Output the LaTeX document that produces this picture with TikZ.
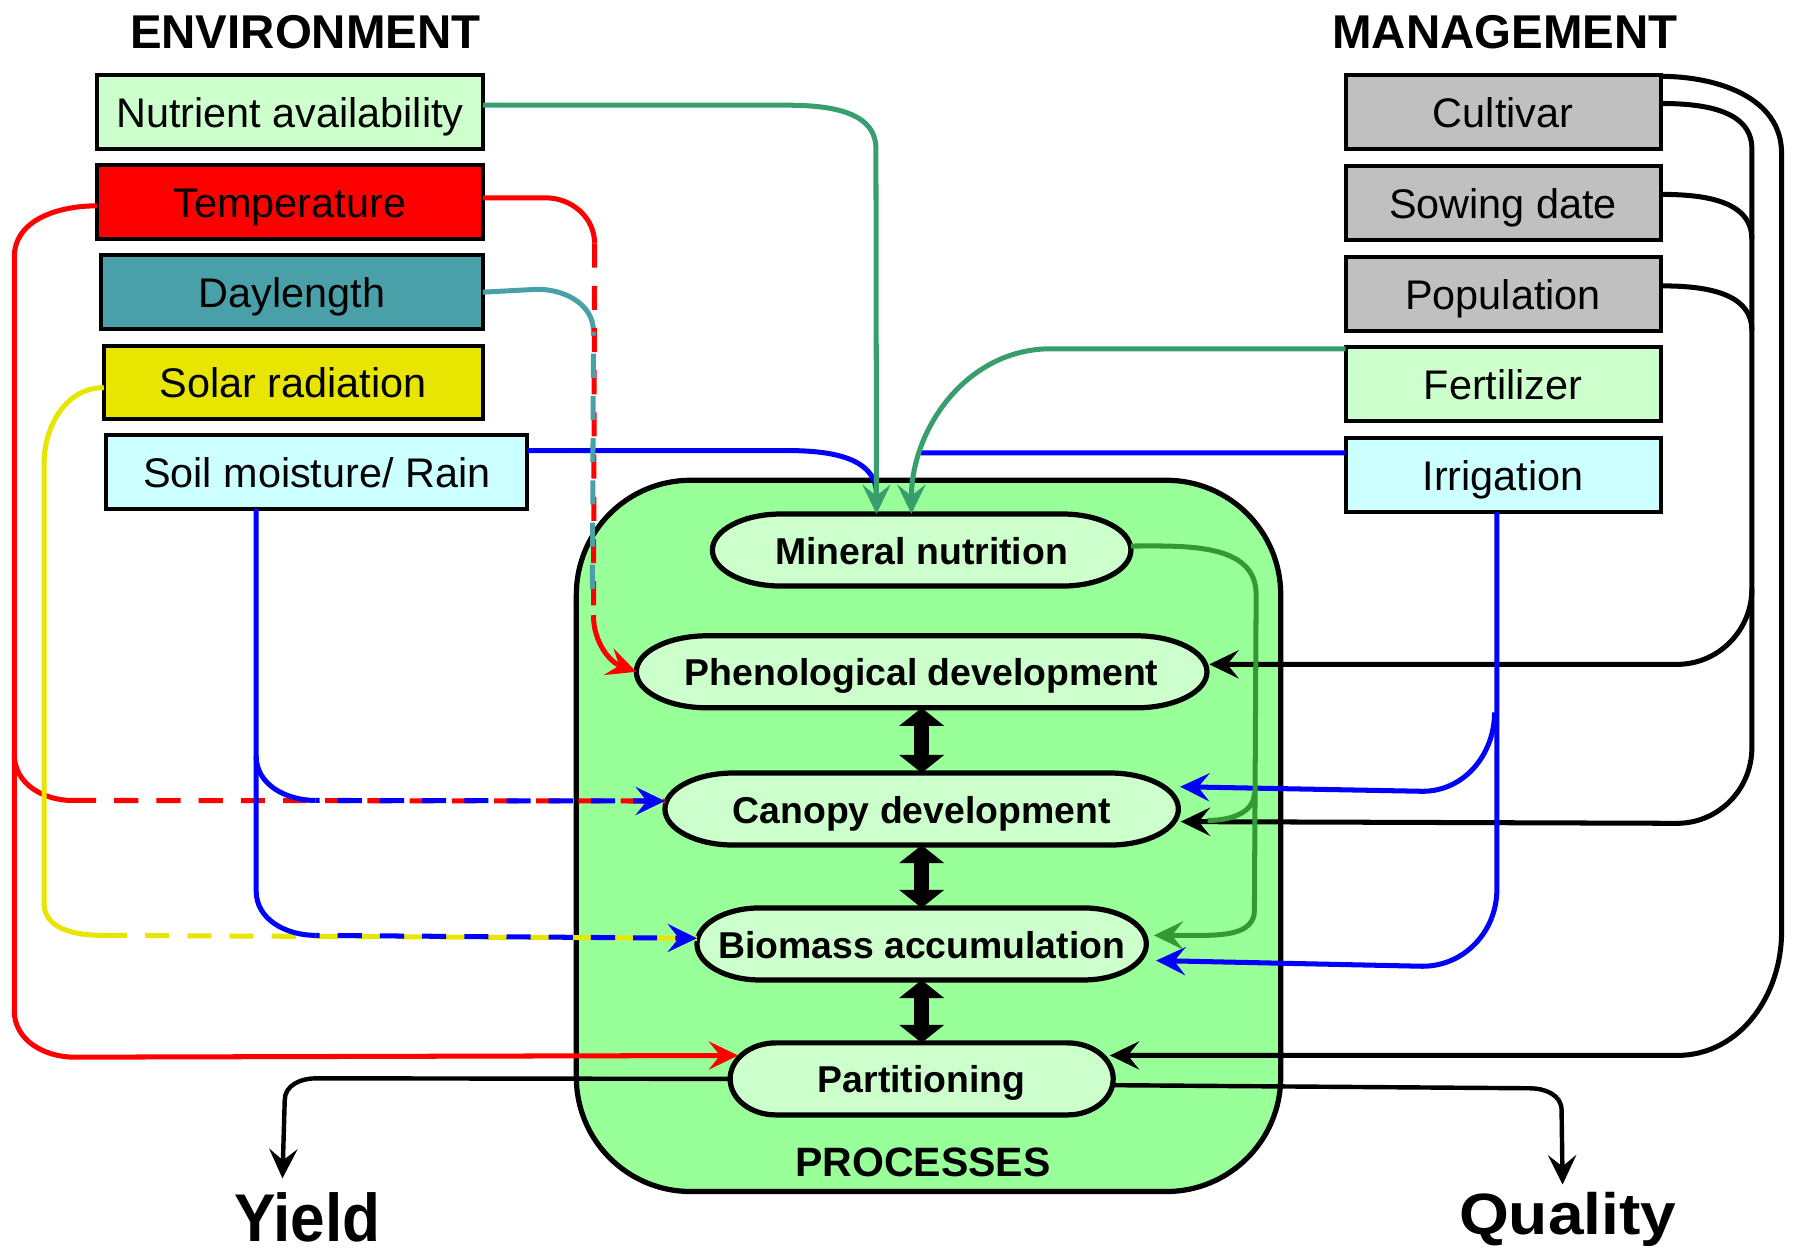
\documentclass[tikz,border=0pt]{standalone}
\usepackage{fontspec}
\setmainfont{Liberation Sans}
\newfontfamily\narrowsf[FakeStretch=0.92]{Liberation Sans}
\newfontfamily\widesf[FakeStretch=1.1]{Liberation Sans}
\usetikzlibrary{arrows.meta,positioning,calc,backgrounds}

\definecolor{palegreen}{RGB}{204,255,204}
\definecolor{procgreen}{RGB}{153,255,153}
\definecolor{palecyan}{RGB}{204,255,255}
\definecolor{mgmtgray}{RGB}{192,192,192}
\definecolor{dayteal}{RGB}{74,160,168}
\definecolor{solaryellow}{RGB}{232,230,0}
\definecolor{nutgreen}{RGB}{56,158,110}
\definecolor{mingreen}{RGB}{51,153,51}

\tikzset{
  factor/.style={draw, line width=1pt, minimum height=0.645cm, inner sep=0pt, outer sep=0pt,
    font=\fontsize{10.3}{12}\selectfont, text height=9pt, text depth=1.3pt},
  process/.style={minimum height=0.63cm, inner sep=0pt, outer sep=0pt,
    font=\fontsize{9.3}{11}\selectfont\bfseries, text height=8pt, text depth=1pt},
  heading/.style={font=\fontsize{11.8}{14}\selectfont\bfseries, inner sep=0pt, anchor=base},
  conn/.style={line width=1.25pt},
  arrowed/.style={-{Stealth[length=7.3pt,width=7pt,inset=2.8pt]}},
  dashlink/.style={dash pattern=on 6pt off 4.5pt},
  twoway/.style={line width=3.7pt, {Triangle[length=4.5pt,width=11pt]}-{Triangle[length=4.5pt,width=11pt]}},
}

\begin{document}
\begin{tikzpicture}
  \useasboundingbox (0,0) rectangle (15.68,-10.975);

  % titles
  \node[heading] (envtitle) at (2.67,-0.42) {ENVIRONMENT};
  \node[heading] (mgmttitle) at (13.16,-0.42) {MANAGEMENT};

  % environment factors
  \node[factor, fill=palegreen, minimum width=3.375cm] (nutr) at (2.535,-0.98) {Nutrient availability};
  \node[factor, fill=red, minimum width=3.375cm] (temp) at (2.535,-1.765) {Temperature};
  \node[factor, fill=dayteal, minimum width=3.335cm] (dayl) at (2.555,-2.555) {Daylength};
  \node[factor, fill=solaryellow, minimum width=3.315cm] (solar) at (2.565,-3.345) {Solar radiation};
  \node[factor, fill=palecyan, minimum width=3.685cm] (soil) at (2.77,-4.13) {Soil moisture/ Rain};

  % management factors
  \node[factor, fill=mgmtgray, minimum width=2.755cm] (cultivar) at (13.145,-0.98) {Cultivar};
  \node[factor, fill=mgmtgray, minimum width=2.755cm] (sowing) at (13.145,-1.775) {Sowing date};
  \node[factor, fill=mgmtgray, minimum width=2.755cm] (popul) at (13.145,-2.57) {Population};
  \node[factor, fill=palegreen, minimum width=2.755cm] (fert) at (13.145,-3.355) {Fertilizer};
  \node[factor, fill=palecyan, minimum width=2.755cm] (irrig) at (13.145,-4.155) {Irrigation};

  % processes
  \node[minimum width=6.16cm, minimum height=6.22cm, inner sep=0pt, outer sep=0pt] (procbox) at (8.12,-7.31) {};
  \node[process, minimum width=3.66cm] (mineral) at (8.06,-4.81) {Mineral nutrition};
  \node[process, minimum width=4.99cm, below=0.435cm of mineral] (pheno) {Phenological development};
  \node[process, minimum width=4.49cm, below=0.57cm of pheno] (canopy) {Canopy development};
  \node[process, minimum width=3.93cm, below=0.55cm of canopy] (biomass) {Biomass accumulation};
  \node[process, minimum width=3.35cm, below=0.55cm of biomass] (partit) {Partitioning};
  \node[font=\fontsize{10.2}{12}\selectfont\bfseries, inner sep=0pt, anchor=base] (proclabel) at (8.07,-10.29) {PROCESSES};

  % outputs
  \node[font=\narrowsf\fontsize{16.8}{20}\selectfont\bfseries, inner sep=0pt, anchor=base] (yield) at (2.69,-10.86) {Yield};
  \node[font=\widesf\fontsize{14.5}{18}\selectfont\bfseries, inner sep=0pt, anchor=base] (quality) at (13.71,-10.8) {Quality};

  \begin{scope}[on background layer]
    \draw[line width=1.3pt, fill=procgreen, rounded corners=1cm] (procbox.south west) rectangle (procbox.north east);
    \foreach \p/\rx in {mineral/0.6,pheno/0.62,canopy/0.6,biomass/0.55,partit/0.4}
      \draw[line width=1.3pt, fill=palegreen]
        ($(\p.north west)+(\rx,0)$) -- ($(\p.north east)+(-\rx,0)$)
        arc[start angle=90,end angle=-90,x radius=\rx,y radius=0.315]
        -- ($(\p.south west)+(\rx,0)$)
        arc[start angle=270,end angle=90,x radius=\rx,y radius=0.315] -- cycle;
  \end{scope}

  % links between processes
  \draw[twoway] (pheno.south) -- (canopy.north);
  \draw[twoway] (canopy.south) -- (biomass.north);
  \draw[twoway] (biomass.south) -- (partit.north);

  \coordinate (minL) at ($(mineral.north)+(-0.395,0)$);
  \coordinate (minR) at ($(mineral.north)+(-0.09,0)$);

  % mineral nutrition inputs
  \draw[conn, blue] ([yshift=0.19cm]soil.east) -- (6.87,-3.94) to[out=0,in=90] ($(minL)+(0,0.17)$);
  \draw[conn, blue] ([yshift=0.195cm]irrig.west) -- (8.05,-3.96);
  \draw[conn, nutgreen, arrowed] ([yshift=0.06cm]nutr.east) -- (6.87,-0.92) to[out=0,in=90] (7.66,-1.30) -- (minL);
  \draw[conn, nutgreen, arrowed] ([yshift=0.305cm]fert.west) -- (9.19,-3.05) to[out=180,in=90] (minR);

  % daylength and temperature to phenology
  \draw[conn, dayteal] (dayl.east) -- (4.70,-2.53) to[out=0,in=90] (5.19,-2.90) coordinate (ddash);
  \draw[conn, red] ([yshift=0.035cm]temp.east) -- (4.77,-1.73) to[out=0,in=90] (5.20,-2.13) coordinate (tdash);
  \draw[conn, red, dashlink] (tdash) -- (5.19,-5.38) coordinate (tend);
  \draw[conn, dayteal, dashlink, dash phase=5pt] (ddash) -- (5.18,-5.28);
  \draw[conn, red, arrowed] (tend) to[out=-90,in=160] (pheno.west);

  % temperature to canopy and partitioning
  \draw[conn, red, arrowed] ([yshift=-0.035cm]temp.west) to[out=180,in=90] (0.125,-2.25) -- (0.125,-8.84)
    to[out=-90,in=180] (0.65,-9.245) -- ($(partit.west)+(0.07,0.205)$);
  \draw[conn, red] (0.125,-6.60) to[out=-90,in=180] (0.63,-7.00) coordinate (rdash);
  \draw[conn, red, dashlink] (rdash) -- ($(canopy.west)+(0,0.07)$);

  % solar radiation to biomass
  \draw[conn, solaryellow] ([yshift=-0.045cm]solar.west) to[out=180,in=90] (0.385,-4.06) -- (0.385,-7.90)
    to[out=-90,in=180] (0.90,-8.18) coordinate (ydash);
  \draw[conn, solaryellow, dashlink] (ydash) -- ($(biomass.west)+(0,0.05)$);

  % soil moisture to canopy and biomass
  \draw[conn, blue] ([xshift=-0.53cm]soil.south) -- (2.24,-7.79) to[out=-90,in=180] (2.76,-8.18) coordinate (sb2);
  \draw[conn, blue] (2.24,-6.61) to[out=-90,in=180] (2.76,-7.00) coordinate (sb1);
  \draw[conn, blue, dashlink, dash phase=5pt, arrowed] (sb1) -- ($(canopy.west)+(0,0.07)$);
  \draw[conn, blue, dashlink, dash phase=5pt, arrowed] (sb2) -- ($(biomass.west)+(0,0.05)$);

  % management to processes
  \draw[conn, arrowed] ([yshift=0.075cm]cultivar.east) to[out=0,in=90] (15.32,-1.30) -- (15.32,-5.15)
    to[out=-90,in=0] (14.665,-5.81) -- ($(pheno.east)+(0.02,0.065)$);
  \draw[conn, arrowed] (15.32,-5.15) -- (15.32,-6.54) to[out=-90,in=0] (14.665,-7.20) -- ($(canopy.east)+(0.02,-0.11)$);
  \draw[conn] ([yshift=0.075cm]sowing.east) to[out=0,in=90] (15.32,-2.09);
  \draw[conn] ([yshift=0.07cm]popul.east) to[out=0,in=90] (15.32,-2.89);
  \draw[conn, arrowed] ([yshift=-0.01cm]cultivar.north east) to[out=0,in=90] (15.58,-1.34) -- (15.58,-8.15)
    to[out=-90,in=0] (14.665,-9.23) -- ($(partit.east)+(-0.03,0.205)$);

  % irrigation to canopy and biomass
  \draw[conn, blue, arrowed] ([xshift=-0.055cm]irrig.south) -- (13.09,-7.78) to[out=-90,in=0] (12.44,-8.45)
    -- ($(biomass.east)+(0.085,-0.145)$);
  \draw[conn, blue, arrowed] (13.07,-6.23) to[out=-90,in=0] (12.44,-6.92) -- ($(canopy.east)+(0.015,0.195)$);

  % mineral nutrition to canopy and biomass
  \draw[conn, mingreen, arrowed] ([yshift=0.035cm]mineral.east) to[out=0,in=90] (10.985,-5.20) -- (10.97,-7.96)
    to[out=-90,in=0] (10.44,-8.18) -- ($(biomass.east)+(0.065,0.075)$);
  \draw[conn, mingreen] (10.97,-6.93) to[out=-90,in=0] ($(canopy.east)+(0.255,-0.10)$);

  % outputs
  \draw[line width=1.1pt, arrowed] (partit.west) -- (2.76,-9.43) to[out=180,in=90] (2.49,-9.62)
    -- ([xshift=-0.22cm,yshift=0.12cm]yield.north);
  \draw[line width=1.1pt, arrowed] ([yshift=-0.055cm]partit.east) -- (13.38,-9.517) to[out=0,in=90] (13.656,-9.707)
    -- ([xshift=-0.045cm,yshift=0.065cm]quality.north);
\end{tikzpicture}
\end{document}
